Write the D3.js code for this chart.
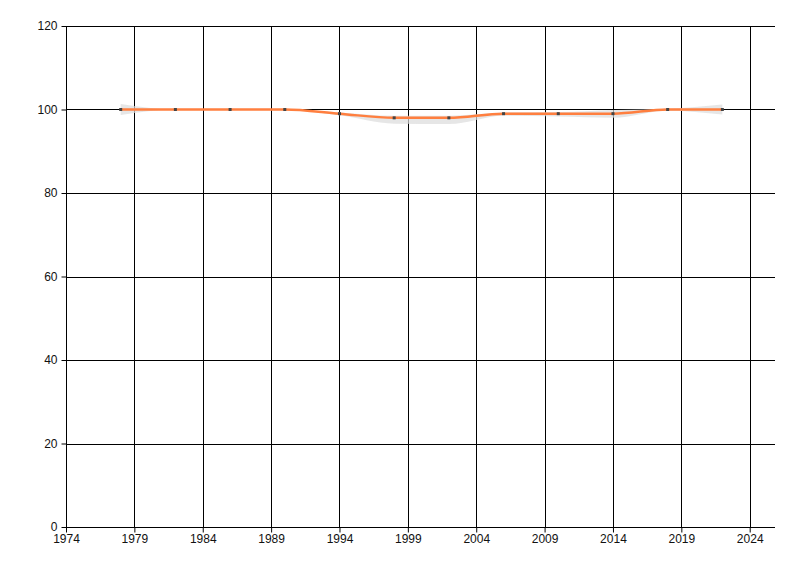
<!DOCTYPE html>
<html>
<head>
<meta charset="utf-8">
<script src="https://cdn.jsdelivr.net/npm/d3@7"></script>
<style>
  body { margin: 0; background: #fff; }
  .tick text { font-family: "Liberation Sans", Arial, sans-serif; font-size: 12px; fill: #111; }
</style>
</head>
<body>
<div id="chart-area"></div>
<script>
// data
var years = [1978, 1982, 1986, 1990, 1994, 1998, 2002, 2006, 2010, 2014, 2018, 2022];
var values = [100, 100, 100, 100, 99, 98, 98, 99, 99, 99, 100, 100];
var upper = [101.3, 100, 100, 100, 99.3, 98.5, 98.5, 99.3, 99.4, 99.9, 100.2, 101.2];
var lower = [98.7, 100, 100, 100, 98.6, 96.6, 96.5, 98.5, 98.3, 98.0, 99.7, 98.8];
var xTicks = [1974, 1979, 1984, 1989, 1994, 1999, 2004, 2009, 2014, 2019, 2024];
var yTicks = [0, 20, 40, 60, 80, 100, 120];

var svg = d3.select("#chart-area").append("svg")
    .attr("width", 800)
    .attr("height", 576);

var plotLeft = 66, plotRight = 775, plotTop = 26, plotBottom = 527;

var x = d3.scaleLinear().domain([1974, 2025.85]).range([plotLeft, plotRight]);
var y = d3.scaleLinear().domain([0, 120]).range([plotBottom, plotTop]);

// grid
svg.append("g")
    .selectAll("line")
    .data(xTicks.slice(1))
    .enter().append("line")
    .attr("x1", function (d) { return Math.round(x(d)) + 0.5; })
    .attr("x2", function (d) { return Math.round(x(d)) + 0.5; })
    .attr("y1", plotTop)
    .attr("y2", plotBottom)
    .attr("stroke", "#000");

svg.append("g")
    .selectAll("line")
    .data(yTicks.slice(1))
    .enter().append("line")
    .attr("x1", plotLeft)
    .attr("x2", plotRight)
    .attr("y1", function (d) { return Math.round(y(d)) + 0.5; })
    .attr("y2", function (d) { return Math.round(y(d)) + 0.5; })
    .attr("stroke", "#000");

// axes
var xAxis = svg.append("g")
    .attr("transform", "translate(0," + (plotBottom + 0.5) + ")")
    .call(d3.axisBottom(x).tickValues(xTicks).tickFormat(d3.format("d")).tickSizeInner(5).tickSizeOuter(0).tickPadding(2));
var yAxis = svg.append("g")
    .attr("transform", "translate(" + (plotLeft + 0.5) + ",0)")
    .call(d3.axisLeft(y).tickValues(yTicks).tickSizeInner(5).tickSizeOuter(0).tickPadding(4));

svg.selectAll(".domain").attr("stroke", "#000");
svg.selectAll(".tick line").attr("stroke", "#000");
yAxis.select(".domain").attr("d", "M0," + plotTop + "V" + plotBottom);
xAxis.select(".domain").attr("d", "M" + plotLeft + ",0H" + plotRight);

// band
var band = d3.area()
    .x(function (d, i) { return x(years[i]); })
    .y0(function (d, i) { return y(lower[i]); })
    .y1(function (d, i) { return y(upper[i]); })
    .curve(d3.curveMonotoneX);

svg.append("path")
    .datum(values)
    .attr("d", band)
    .attr("fill", "#dcdcdc")
    .attr("opacity", 0.7);

// line
var line = d3.line()
    .x(function (d, i) { return x(years[i]); })
    .y(function (d) { return y(d); })
    .curve(d3.curveMonotoneX);

svg.append("path")
    .datum(values)
    .attr("d", line)
    .attr("fill", "none")
    .attr("stroke", "#ff7f3f")
    .attr("stroke-width", 2.5);

// markers
svg.selectAll("rect.dot")
    .data(values)
    .enter().append("rect")
    .attr("class", "dot")
    .attr("x", function (d, i) { return x(years[i]) - 1.5; })
    .attr("y", function (d) { return y(d) - 1.5; })
    .attr("width", 3)
    .attr("height", 3)
    .attr("fill", "#444");
</script>
</body>
</html>
